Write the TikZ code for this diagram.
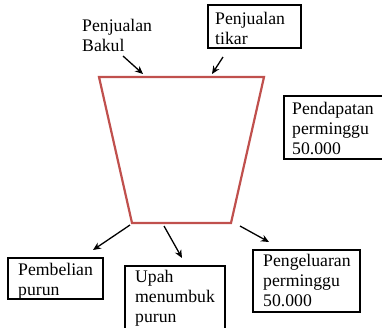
\documentclass[tikz,border=0pt]{standalone}
\usepackage{fontspec}
\setmainfont{Liberation Serif}
\usetikzlibrary{arrows.meta}
\definecolor{trapred}{HTML}{C0504D}
\begin{document}
\begin{tikzpicture}[x=1pt,y=-1pt,
  boxstyle/.style={draw=black,line width=2pt},
  lbl/.style={anchor=base west,inner sep=0pt,align=left,font=\fontsize{17.7}{20}\selectfont},
  arr/.style={-{Stealth[length=8pt,width=7pt]},line width=1.3pt},
  trap/.style={draw=trapred,line width=2.2pt,line join=miter}]
\useasboundingbox (0,0) rectangle (382,327);
% trapezoid
\coordinate (tl) at (99,77);
\coordinate (tr) at (264,77);
\coordinate (br) at (231,223);
\coordinate (bl) at (132,223);
\draw[trap] (tl) -- (tr) -- (br) -- (bl) -- cycle;
% boxes
\draw[boxstyle] (208,5) rectangle (301,48);
\draw[boxstyle] (284,96) rectangle (384,159);
\draw[boxstyle] (8,258) rectangle (103,299);
\draw[boxstyle] (125,266) rectangle (225,331);
\draw[boxstyle] (253,250) rectangle (360,312);
% labels (anchored at the baseline of the last line)
\node[lbl] (bakul) at (82,51) {Penjualan\\Bakul};
\node[lbl] (tikar) at (215,44) {Penjualan\\tikar};
\node[lbl] (pend) at (292,154) {Pendapatan\\perminggu\\50.000};
\node[lbl] (pemb) at (18,295) {Pembelian\\purun};
\node[lbl] (upah) at (135,322) {Upah\\menumbuk\\purun};
\node[lbl] (peng) at (263,306) {Pengeluaran\\perminggu\\50.000};
% arrows
\coordinate (a1s) at (123,56); \coordinate (a1e) at (143,74);
\coordinate (a2s) at (223,57); \coordinate (a2e) at (212,74);
\coordinate (a3s) at (130,225); \coordinate (a3e) at (93,250);
\coordinate (a4s) at (164,226); \coordinate (a4e) at (182,258);
\coordinate (a5s) at (240,226); \coordinate (a5e) at (269,242);
\draw[arr] (a1s) -- (a1e);
\draw[arr] (a2s) -- (a2e);
\draw[arr] (a3s) -- (a3e);
\draw[arr] (a4s) -- (a4e);
\draw[arr] (a5s) -- (a5e);
\end{tikzpicture}
\end{document}
